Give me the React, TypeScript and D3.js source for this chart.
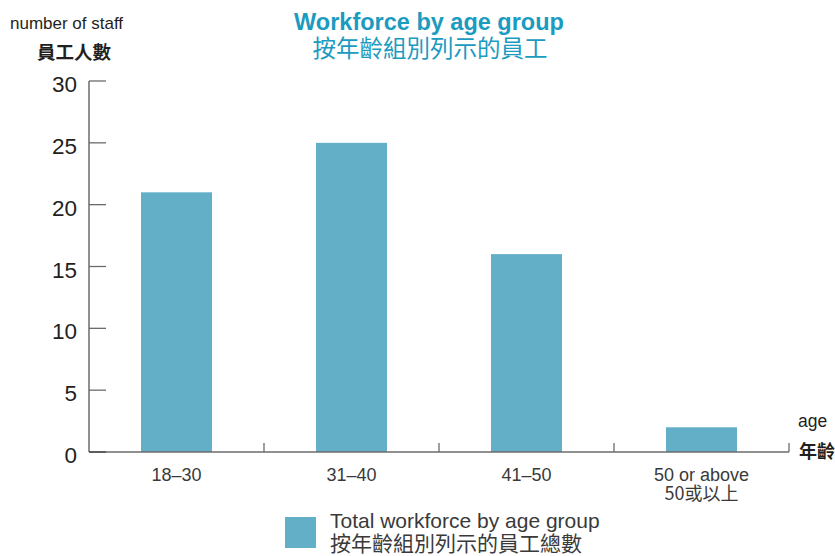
import React from "react";
import * as d3 from "d3";

const categories = ["18–30", "31–40", "41–50", "50 or above"];
const categoriesZh = ["", "", "", "50或以上"];
const values = [21, 25, 16, 2];
const yTicks = [0, 5, 10, 15, 20, 25, 30];

const W = 835;
const H = 556;
const FONT = "'Liberation Sans', Arial, Helvetica, sans-serif";
const CJK = "'Noto Sans CJK TC', 'Noto Sans CJK SC', sans-serif";
const BAR = "#63afc8";
const AXIS = "#6b6b6b";
const TEXT = "#231f20";
const TITLE = "#1b9bc0";

export default function App() {
  const x0 = 89, x1 = 789, yTop = 81, yBot = 452;
  const x = d3.scaleBand<string>().domain(categories).range([x0, x1]).paddingInner(0).paddingOuter(0);
  const y = d3.scaleLinear().domain([0, 30]).range([yBot, yTop]);
  const barW = 71;
  return (
    <svg width={W} height={H} style={{ position: "absolute", left: 0, top: 0 }}>
      <rect width={W} height={H} fill="#fff" />
      {/* title */}
      <text x={429} y={30} textAnchor="middle" fontFamily={FONT} fontWeight="bold" fontSize={23.5} fill={TITLE}>Workforce by age group</text>
      <text x={430} y={57} textAnchor="middle" fontFamily={CJK} fontSize={23.5} fill={TITLE}>按年齡組別列示的員工</text>
      {/* y axis title */}
      <text x={10} y={29} fontFamily={FONT} fontSize={17} fill={TEXT}>number of staff</text>
      <text x={37} y={59} fontFamily={CJK} fontWeight="bold" fontSize={18.5} fill={TEXT}>員工人數</text>
      {/* bars */}
      {values.map((v, i) => {
        const cx = (x(categories[i]) as number) + x.bandwidth() / 2;
        return <rect key={i} x={cx - barW / 2} y={y(v)} width={barW} height={y(0) - y(v)} fill={BAR} />;
      })}
      {/* y axis */}
      <line x1={x0} x2={x0} y1={yTop} y2={yBot} stroke={AXIS} strokeWidth={1.5} />
      {yTicks.map((t) => (
        <g key={t}>
          <line x1={x0} x2={x0 + 17} y1={y(t)} y2={y(t)} stroke={t === 0 ? "#333" : AXIS} strokeWidth={t === 0 ? 2 : 1.3} />
          <text x={77} y={y(t) + 3} dy="0.36em" textAnchor="end" fontFamily={FONT} fontSize={22.5} fill={TEXT}>{t}</text>
        </g>
      ))}
      {/* x axis */}
      <line x1={x0} x2={x1} y1={yBot} y2={yBot} stroke={AXIS} strokeWidth={1.5} />
      {categories.map((c, i) => {
        const bx = (x(c) as number) + x.bandwidth();
        const cx = (x(c) as number) + x.bandwidth() / 2;
        return (
          <g key={c}>
            <line x1={bx} x2={bx} y1={yBot} y2={yBot - 9} stroke={AXIS} strokeWidth={1.3} />
            <text x={cx} y={481} textAnchor="middle" fontFamily={FONT} fontSize={18} fill="#3a3a3a">{c}</text>
            {categoriesZh[i] && (
              <text x={cx} y={500} textAnchor="middle" fontFamily={CJK} fontSize={18} fill="#3a3a3a">{categoriesZh[i]}</text>
            )}
          </g>
        );
      })}
      <text x={798} y={427} fontFamily={FONT} fontSize={17.5} fill={TEXT}>age</text>
      <text x={799} y={458} fontFamily={CJK} fontWeight="bold" fontSize={18} fill={TEXT}>年齡</text>
      {/* legend */}
      <rect x={285} y={517} width={31} height={31} fill={BAR} />
      <text x={330} y={528} fontFamily={FONT} fontSize={21} fill="#3a3a3a">Total workforce by age group</text>
      <text x={330} y={551} fontFamily={CJK} fontSize={21} fill="#3a3a3a">按年齡組別列示的員工總數</text>
    </svg>
  );
}
